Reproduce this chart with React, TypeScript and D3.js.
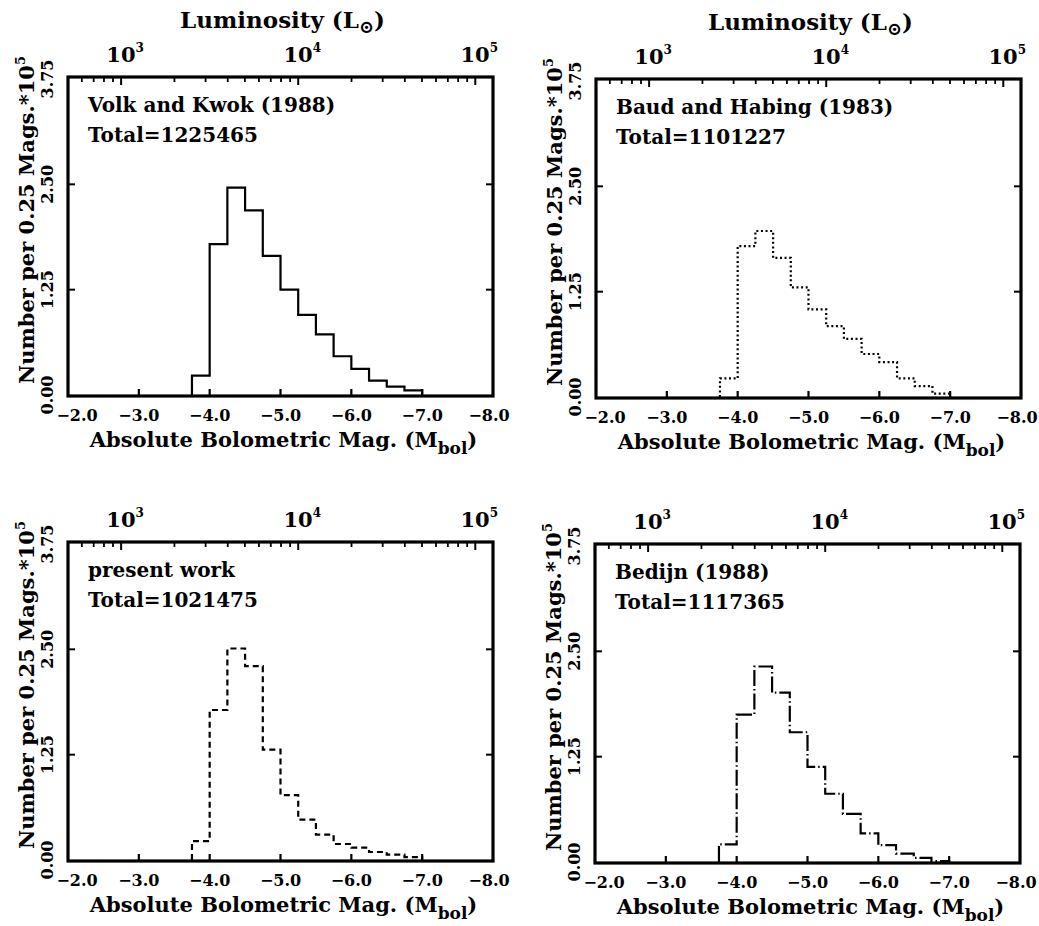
import React from "react";
import * as d3 from "d3";

// ---- data ----
const binEdges = [-3.75, -4.0, -4.25, -4.5, -4.75, -5.0, -5.25, -5.5, -5.75, -6.0, -6.25, -6.5, -6.75, -7.0];
const volkKwok = [0.23, 1.79, 2.46, 2.19, 1.65, 1.25, 0.95, 0.72, 0.46, 0.31, 0.17, 0.10, 0.055];
const baudHabing = [0.22, 1.79, 1.97, 1.65, 1.30, 1.04, 0.84, 0.69, 0.51, 0.415, 0.22, 0.13, 0.04];
const presentWork = [0.225, 1.78, 2.51, 2.30, 1.31, 0.77, 0.48, 0.30, 0.19, 0.146, 0.095, 0.063, 0.035];
const bedijn = [0.21, 1.75, 2.32, 2.01, 1.54, 1.13, 0.81, 0.57, 0.34, 0.20, 0.10, 0.048, 0.012];

const magTicks = [-2.0, -3.0, -4.0, -5.0, -6.0, -7.0, -8.0];
const yTicks = [0.0, 1.25, 2.5, 3.75];
const lumMajor = [1e3, 1e4, 1e5];
const lumMajorExp = ["3", "4", "5"];
const lumMinor = [600, 700, 800, 900, 2000, 3000, 4000, 5000, 6000, 7000, 8000, 9000,
  20000, 30000, 40000, 50000, 60000, 70000, 80000, 90000];

const panelNames = ["Volk and Kwok (1988)", "Baud and Habing (1983)", "present work", "Bedijn (1988)"];
const panelTotals = ["Total=1225465", "Total=1101227", "Total=1021475", "Total=1117365"];

const FONT = "'DejaVu Serif', serif";
const W = 425;
const H = 319;

const panels = [
  { left: 68, top: 77, values: volkKwok, dash: "none", showTitle: true },
  { left: 596, top: 79, values: baudHabing, dash: "2,2.6", showTitle: true },
  { left: 68, top: 542, values: presentWork, dash: "6,4", showTitle: false },
  { left: 595, top: 544, values: bedijn, dash: "16,3,1.5,3", showTitle: false },
];

const magFromLum = (L: number) => 4.75 - 2.5 * Math.log10(L);

function Panel({ p, idx }: { p: any; idx: number }) {
  const x = d3.scaleLinear().domain([-2, -8]).range([0, W]);
  const y = d3.scaleLinear().domain([0, 3.75]).range([H - 1, 2]);
  const n = p.values.length;
  const pts: [number, number][] = [[binEdges[0], 0]];
  p.values.forEach((v: number, i: number) => pts.push([binEdges[i], v]));
  pts.push([binEdges[n], p.values[n - 1]]);
  pts.push([binEdges[n], 0]);
  const line = d3
    .line<[number, number]>()
    .x((d) => x(d[0]))
    .y((d) => y(d[1]))
    .curve(d3.curveStepAfter);

  return (
    <g transform={`translate(${p.left},${p.top})`} fontFamily={FONT} fontWeight="bold" fill="#000">
      {/* histogram */}
      <path d={line(pts) || ""} fill="none" stroke="#000" strokeWidth={2.2} strokeDasharray={p.dash === "none" ? undefined : p.dash} />
      {/* frame */}
      <rect x={0} y={0} width={W} height={H} fill="none" stroke="#000" strokeWidth={3.2} />
      {/* bottom ticks */}
      {magTicks.slice(1, -1).map((m) => (
        <line key={"bt" + m} x1={x(m)} x2={x(m)} y1={H} y2={H - 7} stroke="#000" strokeWidth={2.2} />
      ))}
      {/* left/right ticks */}
      {yTicks.slice(1, -1).map((v) => (
        <g key={"yt" + v}>
          <line x1={0} x2={7} y1={y(v)} y2={y(v)} stroke="#000" strokeWidth={2} />
          <line x1={W} x2={W - 7} y1={y(v)} y2={y(v)} stroke="#000" strokeWidth={2} />
        </g>
      ))}
      {/* top ticks (luminosity) */}
      {lumMinor.map((L) => (
        <line key={"tm" + L} x1={x(magFromLum(L))} x2={x(magFromLum(L))} y1={0} y2={5} stroke="#000" strokeWidth={1.8} />
      ))}
      {lumMajor.map((L) => (
        <line key={"tM" + L} x1={x(magFromLum(L))} x2={x(magFromLum(L))} y1={0} y2={8} stroke="#000" strokeWidth={2} />
      ))}
      {/* top tick labels */}
      {lumMajor.map((L, i) => (
        <text key={"tl" + L} x={x(magFromLum(L)) + 4} y={-15} fontSize={21} textAnchor="middle">
          10<tspan fontSize={12} dy={-10}>{lumMajorExp[i]}</tspan>
        </text>
      ))}
      {p.showTitle && (
        <text x={W / 2 + 2} y={-49} fontSize={23} textAnchor="middle">
          Luminosity (L<tspan fontSize={18} dy={5}>⊙</tspan><tspan dy={-5}>)</tspan>
        </text>
      )}
      {/* bottom tick labels */}
      {magTicks.map((m, i) => (
        <text
          key={"xl" + m}
          x={x(m) + (i === 0 ? 9 : i === magTicks.length - 1 ? -4 : 0)}
          y={H + 25}
          fontSize={16}
          textAnchor="middle"
        >
          {"\u2212" + Math.abs(m).toFixed(1)}
        </text>
      ))}
      <text x={W / 2 + 3} y={H + 51} fontSize={21} textAnchor="middle">
        Absolute Bolometric Mag. (M<tspan fontSize={17} dy={7}>bol</tspan><tspan dy={-7}>)</tspan>
      </text>
      {/* y tick labels */}
      {yTicks.map((v) => (
        <text key={"yl" + v} transform={`translate(-15,${y(v)}) rotate(-90)`} fontSize={16} textAnchor="middle">
          {v.toFixed(2)}
        </text>
      ))}
      <text transform={`translate(-34,${143}) rotate(-90)`} fontSize={21} textAnchor="middle">
        Number per 0.25 Mags.*10<tspan fontSize={13} dy={-9}>5</tspan>
      </text>
      {/* panel labels */}
      <text x={20} y={35} fontSize={20}>{panelNames[idx]}</text>
      <text x={20} y={65} fontSize={20}>{panelTotals[idx]}</text>
    </g>
  );
}

export default function App() {
  return (
    <svg width={1039} height={926} style={{ display: "block", position: "absolute", left: 0, top: 0, background: "#fff" }}>
      <rect x={0} y={0} width={1039} height={926} fill="#fff" />
      {panels.map((p, i) => (
        <Panel key={i} p={p} idx={i} />
      ))}
    </svg>
  );
}
